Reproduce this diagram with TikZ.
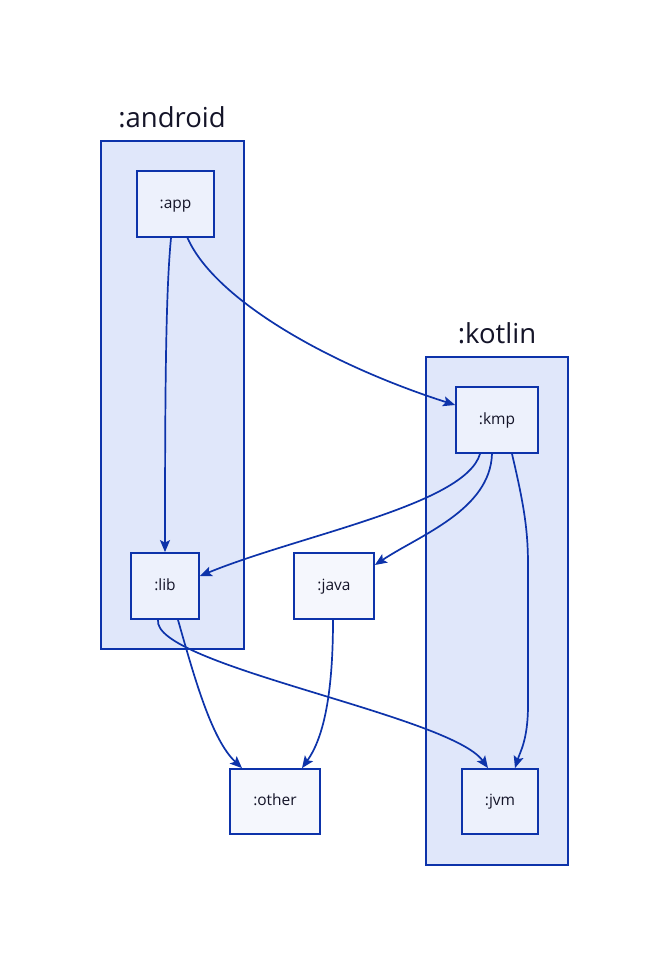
\documentclass[tikz,border=0pt]{standalone}
\usepackage{fontspec}
\setmainfont{Open Sans}
\usetikzlibrary{arrows.meta}
\definecolor{edgeblue}{HTML}{0D33AA}
\definecolor{clusterfill}{HTML}{E0E7FA}
\definecolor{innerfill}{HTML}{EDF1FC}
\definecolor{outerfill}{HTML}{F5F7FD}
\definecolor{txt}{HTML}{141428}
\tikzset{
  cluster/.style={draw=edgeblue, fill=clusterfill, line width=1.8pt},
  clabel/.style={text=txt, font=\fontsize{27.5}{32}\selectfont},
  mod/.style={draw=edgeblue, line width=1.8pt, inner sep=0pt, text=txt, font=\fontsize{15.5}{18}\selectfont, text height=1.1em, text depth=0.22em},
  inmod/.style={mod, fill=innerfill},
  outmod/.style={mod, fill=outerfill},
  edge/.style={draw=edgeblue, line width=1.7pt, -{Stealth[length=12pt,width=10pt,inset=2.5pt]}},
}
\begin{document}
\begin{tikzpicture}[x=1pt,y=-1pt]
\path[fill=white] (0,0) rectangle (669,966);
\useasboundingbox (0,0) rectangle (669,966);
% clusters
\path[cluster] (101,141) rectangle (244,649);
\node[clabel] (landroid) at (172,117) {:android};
\path[cluster] (426,357) rectangle (568,865);
\node[clabel] (lkotlin) at (497,333) {:kotlin};
% nodes
\node[inmod, minimum width=77pt, minimum height=66pt] (app) at (175.5,204) {:app};
\node[inmod, minimum width=82pt, minimum height=66pt] (kmp) at (497,420) {:kmp};
\node[inmod, minimum width=68pt, minimum height=66pt] (lib) at (165,586) {:lib};
\node[outmod, minimum width=80pt, minimum height=66pt] (java) at (334,586) {:java};
\node[outmod, minimum width=90pt, minimum height=65pt] (other) at (275,801.5) {:other};
\node[inmod, minimum width=76pt, minimum height=65pt] (jvm) at (500,801.5) {:jvm};
% edges
\draw[edge] ([xshift=-4.5pt]app.south) .. controls (166,290) and (165,380) .. (lib.north);
\draw[edge] ([xshift=12pt]app.south) .. controls (215,300) and (330,365) .. ([yshift=15pt]kmp.west);
\draw[edge] ([xshift=-17pt]kmp.south) .. controls (465,505) and (300,535) .. ([yshift=10pt]lib.east);
\draw[edge] ([xshift=-5pt]kmp.south) .. controls (490,510) and (420,535) .. ([yshift=21pt]java.east);
\draw[edge] ([xshift=15pt]kmp.south) .. controls (524,505) and (528,530) .. (528,565) -- (528,705) .. controls (528,740) and (520,752) .. ([xshift=15pt]jvm.north);
\draw[edge] ([xshift=13pt]lib.south) .. controls (195,680) and (212,740) .. ([xshift=-33pt]other.north);
\draw[edge] ([xshift=-7pt]lib.south) .. controls (152,665) and (450,715) .. ([xshift=-12pt]jvm.north);
\draw[edge] ([xshift=-1pt]java.south) .. controls (333,700) and (322,740) .. ([xshift=27pt]other.north);
\end{tikzpicture}
\end{document}
